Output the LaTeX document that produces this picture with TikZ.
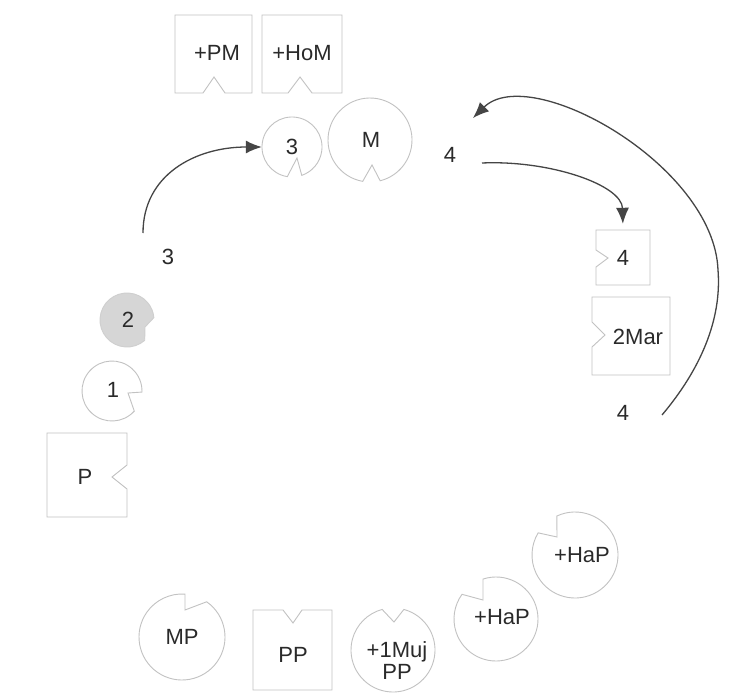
\documentclass[tikz,border=0pt]{standalone}
\usepackage{fontspec}
\setmainfont{Liberation Sans}
\usetikzlibrary{arrows.meta}
\definecolor{shapeline}{HTML}{C2C2C2}
\definecolor{arrowcol}{HTML}{454545}
\definecolor{txt}{HTML}{2A2A2A}
\definecolor{grayfill}{HTML}{D6D6D6}
\tikzset{
  outline/.style={draw=shapeline, line width=0.9pt, line join=miter},
  lbl/.style={text=txt, font=\fontsize{22}{22}\selectfont, inner sep=0pt, align=center},
  conn/.style={draw=arrowcol, line width=1.3pt, -{Latex[length=16pt,width=13pt]}},
}
% optional style, centre, radius, start angle, end angle, apex of notch
\newcommand\notchcirc[6][]{%
  \draw[outline,#1] (#2) ++(#4:#3) arc[start angle=#4, end angle=#5, radius=#3] -- (#6) -- cycle;}
\begin{document}
\begin{tikzpicture}[x=1pt,y=-1pt]
\useasboundingbox[fill=white] (0,0) rectangle (747,693);

% top boxes
\draw[outline] (175,15) -- (252,15) -- (252,93) -- (225,93) -- (214,77) -- (203,93) -- (175,93) -- cycle;
\node[lbl] (tPM) at (217,53) {+PM};
\draw[outline] (262,15) -- (342,15) -- (342,93) -- (312,93) -- (300,77) -- (288,93) -- (262,93) -- cycle;
\node[lbl] (tHoM) at (302,53) {+HoM};

% circles 3 and M
\notchcirc{292,147}{30}{99}{431}{297,158}
\node[lbl, circle, minimum size=60pt] (c3) at (292,147) {3};
\notchcirc{370,140}{42}{100}{436}{372,165}
\node[lbl] (cM) at (371,140) {M};

% labels
\node[lbl] (l4a) at (450,155) {4};
\node[lbl] (l3) at (168,257) {3};
\node[lbl] (l4b) at (623,413) {4};

% circles 2 and 1
\notchcirc[fill=grayfill, draw=shapeline!120!gray]{127,320}{27}{49}{355}{145,327}
\node[lbl] (c2) at (128,320) {2};
\notchcirc{112,391}{30}{42}{362}{128,393}
\node[lbl] (c1) at (113,390) {1};

% box P
\draw[outline] (47,433) -- (127,433) -- (127,465) -- (112,477) -- (127,489) -- (127,517) -- (47,517) -- cycle;
\node[lbl] (bP) at (85,477) {P};

% box 4 and 2Mar
\draw[outline] (596,230) -- (650,230) -- (650,285) -- (596,285) -- (596,267) -- (608,258) -- (596,250) -- cycle;
\node[lbl, minimum width=54pt, minimum height=55pt] (b4) at (623,257.5) {4};
\draw[outline] (592,297) -- (670,297) -- (670,375) -- (592,375) -- (592,347) -- (605,335) -- (592,322) -- cycle;
\node[lbl] (b2Mar) at (638,337) {2Mar};

% bottom row
\notchcirc{182,637}{43}{-55}{274}{185,610}
\node[lbl] (cMP) at (182,637) {MP};
\draw[outline] (253,610) -- (283,610) -- (293,623) -- (302,610) -- (332,610) -- (332,690) -- (253,690) -- cycle;
\node[lbl] (bPP) at (293,655) {PP};
\notchcirc{393,650}{42}{-75}{255}{394,622}
\node[lbl] (cMuj) at (397,661) {+1Muj\\PP};
\notchcirc{496,619}{42}{252}{576}{483,600}
\node[lbl] (cHaP1) at (502,617) {+HaP};
\notchcirc{575,555}{43}{245}{571}{557,537}
\node[lbl] (cHaP2) at (582,555) {+HaP};

% connectors
\coordinate (a1s) at (143,233);
\draw[conn] (a1s) .. controls (143,175) and (195,147) .. (c3.west);
\coordinate (a2s) at (482,163);
\draw[conn, shorten >=6pt] (a2s) .. controls (550,160) and (622,185) .. (b4.north);
\coordinate (a3s) at (662,415);
\coordinate (a3m) at (718,270);
\coordinate (a3e) at (473,118);
\draw[conn] (a3s) .. controls (700,370) and (722,320) .. (a3m)
  .. controls (714,165) and (530,62) .. (a3e);
\end{tikzpicture}
\end{document}
